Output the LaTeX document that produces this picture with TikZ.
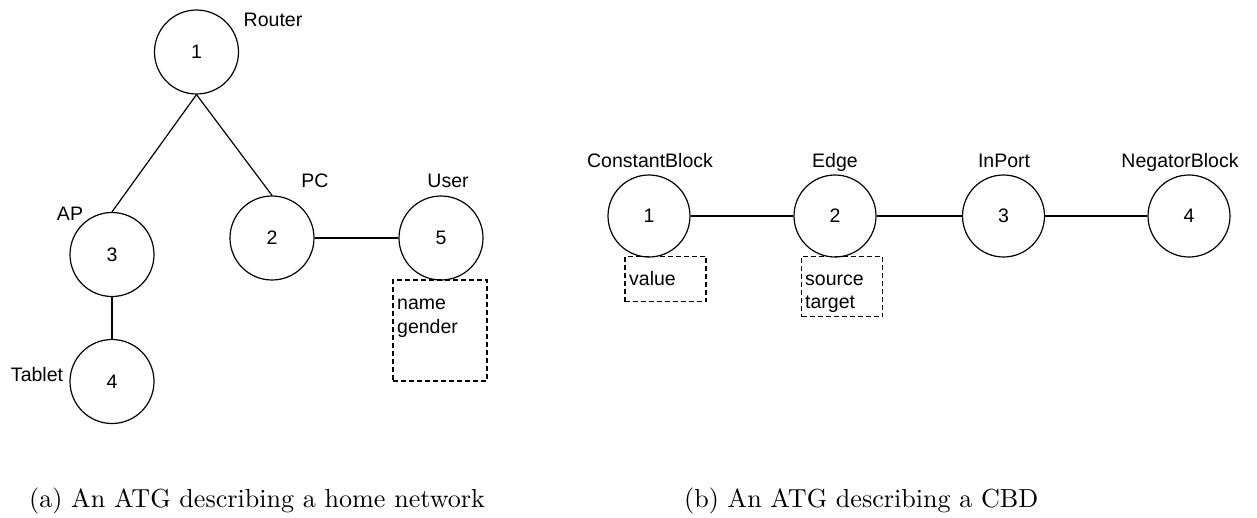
\documentclass[tikz,border=0pt]{standalone}
\usepackage{fontspec}
\newfontfamily\diagfont{Liberation Sans}
\newfontfamily\capfont{lmroman10-regular.otf}
\begin{document}
\begin{tikzpicture}[x=1pt,y=-1pt,
  vert/.style={draw,circle,line width=1.2pt,minimum size=84pt,inner sep=0pt,
    font=\diagfont\fontsize{19.5}{23}\selectfont},
  vertb/.style={vert,minimum size=82pt},
  lbl/.style={anchor=base,inner sep=0pt,font=\diagfont\fontsize{19.5}{23}\selectfont},
  attr/.style={anchor=base west,inner sep=0pt,font=\diagfont\fontsize{19.5}{23}\selectfont},
  attrbox/.style={draw,line width=1.1pt,dash pattern=on 5pt off 3pt,inner sep=0pt},
  link/.style={line width=1.2pt},
  captext/.style={anchor=base west,inner sep=0pt,font=\capfont\fontsize{26.1}{31}\selectfont}]
\useasboundingbox (0,0) rectangle (1257,517);

% (a) home network
\node[vert] (a1) at (196.5,52) {1};
\node[vert] (a2) at (272,238) {2};
\node[vert] (a3) at (112,254.5) {3};
\node[vert] (a4) at (112,381.5) {4};
\node[vert] (a5) at (441,238) {5};

\node[lbl] (lrouter) at (273,26.7) {Router};
\node[lbl] (lap) at (70,220) {AP};
\node[lbl] (lpc) at (315,187) {PC};
\node[lbl] (luser) at (448,187) {User};
\node[lbl] (ltablet) at (37,381.5) {Tablet};

\draw[link] (a1.south) -- (a3.north);
\draw[link] (a1.south) -- (a2.north);
\draw[link] (a2) -- (a5);
\draw[link] (a3) -- (a4);

\node[attrbox,minimum width=94pt,minimum height=101pt] (box5) at (440,330.5) {};
\node[attr] (t5a) at (397,309.5) {name};
\node[attr] (t5b) at (397,333.5) {gender};

% (b) causal block diagram
\node[vertb] (b1) at (649,216) {1};
\node[vertb] (b2) at (835,216) {2};
\node[vertb] (b3) at (1003.5,216) {3};
\node[vertb] (b4) at (1189,216) {4};

\node[lbl] (lconst) at (650,167) {ConstantBlock};
\node[lbl] (ledge) at (835,167) {Edge};
\node[lbl] (linport) at (1004,167) {InPort};
\node[lbl] (lneg) at (1180,167) {NegatorBlock};

\draw[link] (b1) -- (b2);
\draw[link] (b2) -- (b3);
\draw[link] (b3) -- (b4);

\node[attrbox,minimum width=81pt,minimum height=45.5pt] (box1) at (665.5,279) {};
\node[attr] (t1a) at (629,285.5) {value};
\node[attrbox,minimum width=81pt,minimum height=60.5pt] (box2) at (842,286.5) {};
\node[attr] (t2a) at (805,285) {source};
\node[attr] (t2b) at (805,308.5) {target};

% captions
\node[captext] (capa) at (29,507.5) {(a) An ATG describing a home network};
\node[captext] (capb) at (684,507.5) {(b) An ATG describing a CBD};
\end{tikzpicture}
\end{document}
